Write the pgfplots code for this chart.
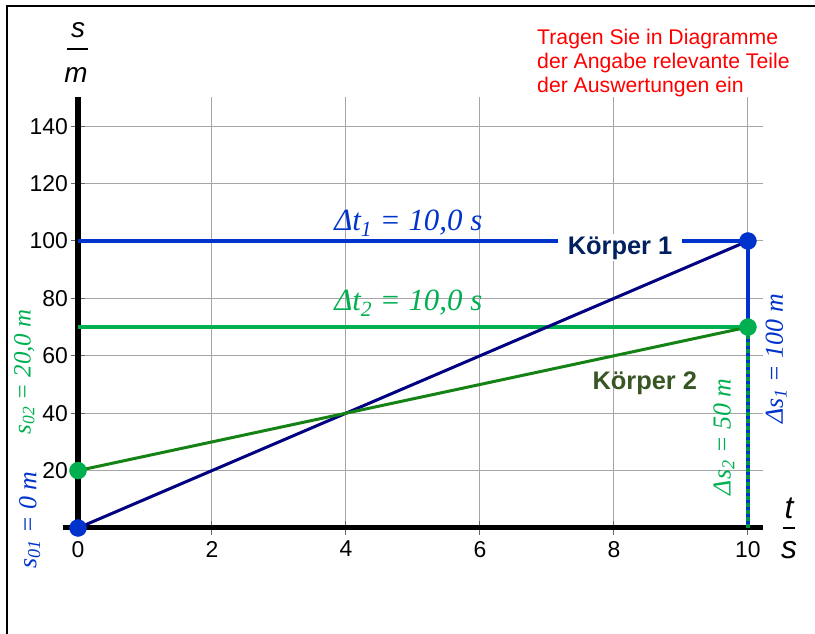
\documentclass[border=0pt]{standalone}
\usepackage{fontspec}
\setmainfont{Liberation Sans}
\newfontfamily\serif{Liberation Serif}
\usepackage{pgfplots}
\pgfplotsset{compat=1.18}
\definecolor{blueL}{RGB}{0,51,204}
\definecolor{navy}{RGB}{0,0,128}
\definecolor{greenL}{RGB}{0,176,80}
\definecolor{darkgreen}{RGB}{20,130,20}
\definecolor{k1}{RGB}{0,32,96}
\definecolor{k2}{RGB}{55,86,35}
\begin{document}
\begin{tikzpicture}
\useasboundingbox (0bp,0bp) rectangle (815bp,634bp);
\draw[line width=2.5bp] (7bp,0bp) -- (7bp,628bp) -- (815bp,628bp);
\begin{axis}[
  at={(78bp,106bp)}, anchor=south west,
  scale only axis, width=684.7bp, height=430.5bp,
  xmin=0, xmax=10.22, ymin=0, ymax=150,
  axis lines=middle,
  axis line style={-, line width=5bp, black},
  x axis line style={shorten <=-15bp},
  xtick={0,2,...,10}, ytick={20,40,...,140},
  hide obscured x ticks=false, hide obscured y ticks=false,
  grid=major, grid style={black!35, line width=1bp},
  major tick length=14bp, tick style={black!60, line width=1bp},
  ticklabel style={font=\fontsize{23}{23}\selectfont, inner sep=0pt},
  xticklabel style={anchor=north, yshift=-6bp},
  yticklabel style={anchor=east, xshift=-3bp},
  /pgf/number format/assume math mode=true,
  clip=false,
]
\addplot[blueL, line width=4bp] coordinates {(0,100) (10,100)};
\addplot[greenL, line width=4bp] coordinates {(0,70) (10,70)};
\addplot[navy, line width=3bp] coordinates {(0,0) (10,100)};
\addplot[darkgreen, line width=3bp] coordinates {(0,20) (10,70)};
\addplot[blueL, line width=3.5bp] coordinates {(10,0) (10,100)};
\addplot[greenL!85!black, line width=3.5bp, dash pattern=on 4bp off 3bp] coordinates {(10,0) (10,70)};
\addplot[only marks, mark=*, mark size=8.5bp, mark options={fill=blueL, draw=blueL}] coordinates {(0,0) (10,100)};
\addplot[only marks, mark=*, mark size=8.5bp, mark options={fill=greenL, draw=greenL}] coordinates {(0,20) (10,70)};
\node[text=blueL, font=\serif\itshape\fontsize{31}{31}\selectfont] at (axis cs:4.93,106.3) {Δt\textsubscript{1} = 10,0 s};
\node[text=greenL, font=\serif\itshape\fontsize{31}{31}\selectfont] at (axis cs:4.93,78.2) {Δt\textsubscript{2} = 10,0 s};
\node[fill=white, inner xsep=10bp, inner ysep=2bp, text=k1, font=\bfseries\fontsize{25.5}{25.5}\selectfont] at (axis cs:8.09,97.6) {Körper 1};
\node[text=k2, font=\bfseries\fontsize{25.5}{25.5}\selectfont] at (axis cs:8.46,50.5) {Körper 2};
\node[rotate=90, text=greenL, font=\serif\itshape\fontsize{25}{25}\selectfont] at (axis cs:-0.8,54.4) {s\textsubscript{02} = 20,0 m};
\node[rotate=90, text=blueL, font=\serif\itshape\fontsize{26}{26}\selectfont] at (axis cs:-0.72,2.8) {s\textsubscript{01} = 0 m};
\node[rotate=90, text=blueL, font=\serif\itshape\fontsize{26}{26}\selectfont] at (axis cs:10.42,58.9) {Δs\textsubscript{1} = 100 m};
\node[rotate=90, text=greenL, font=\serif\itshape\fontsize{26}{26}\selectfont] at (axis cs:9.64,31.7) {Δs\textsubscript{2} = 50 m};
\end{axis}
\node[anchor=north west, align=left, text=red, inner sep=0pt, font=\fontsize{21.3}{24}\selectfont] at (537bp,605bp) {Tragen Sie in Diagramme\\der Angabe relevante Teile\\der Auswertungen ein};
\node[font=\itshape\fontsize{28}{28}\selectfont, inner sep=0pt] at (78bp,604bp) {s};
\draw[line width=1.5bp] (67bp,585bp) -- (88bp,585bp);
\node[font=\itshape\fontsize{28}{28}\selectfont, inner sep=0pt] at (76bp,559bp) {m};
\node[font=\itshape\fontsize{32}{32}\selectfont, inner sep=0pt] at (789bp,125.5bp) {t};
\draw[line width=1.5bp] (783bp,106bp) -- (795bp,106bp);
\node[font=\itshape\fontsize{32}{32}\selectfont, inner sep=0pt] at (789bp,84bp) {s};
\end{tikzpicture}
\end{document}
